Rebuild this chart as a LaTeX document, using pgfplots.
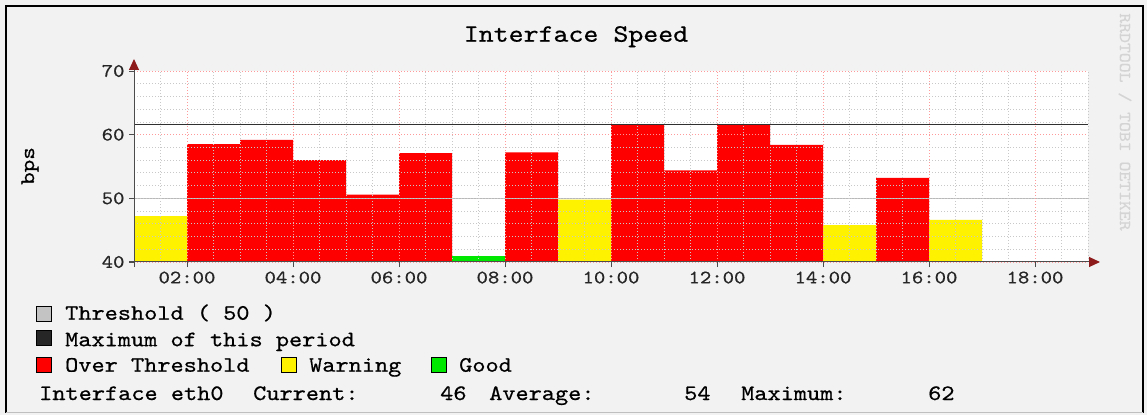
\documentclass[border=0pt]{standalone}
\usepackage{fontspec}
\usepackage{pgfplots}
\pgfplotsset{compat=1.18}
\usetikzlibrary{arrows.meta}
\newfontfamily\rrd{lmmono10-regular.otf}[FakeStretch=1.14,FakeBold=0.6]
\definecolor{bgc}{HTML}{F2F2F2}
\definecolor{arrowred}{HTML}{8E1B1B}
\definecolor{thrgray}{HTML}{B8B8B8}
\definecolor{maxgray}{HTML}{303030}
\definecolor{mgrid}{HTML}{FF9A9A}
\definecolor{ngrid}{HTML}{C8C8C8}
\definecolor{goodgreen}{HTML}{00E800}
\begin{document}
\begin{tikzpicture}[x=1pt,y=1pt]
\fill[bgc] (0,0) rectangle (1147,415);
\draw[black, line width=2.3pt] (6.2,2.5) -- (6.2,408.8) -- (1142.8,408.8) -- (1142.8,2.5);
\draw[black!25, line width=1.5pt] (6.2,2.5) -- (1142.8,2.5);
\begin{axis}[
  at={(134pt,153pt)}, anchor=south west,
  scale only axis, width=954pt, height=191pt,
  xmin=1, xmax=19, ymin=40, ymax=70,
  axis lines=left, axis on top,
  axis background/.style={fill=white},
  axis line style={draw=black!70, line width=1pt, -{Triangle[length=11pt,width=10pt,color=arrowred]}, shorten >=-12pt, shorten <=-5pt},
  xtick={2,4,...,18},
  xticklabels={02:00,04:00,06:00,08:00,10:00,12:00,14:00,16:00,18:00},
  ytick={40,60,70},
  extra y ticks={50},
  extra y tick style={grid=none},
  minor xtick={1,1.5,...,19},
  minor ytick={40,42,...,70},
  xmajorgrids, ymajorgrids, xminorgrids, yminorgrids,
  major grid style={mgrid, line width=0.8pt, dash pattern=on 1pt off 2pt},
  minor grid style={ngrid, line width=0.8pt, dash pattern=on 1pt off 2pt},
  tick align=outside,
  major tick length=5pt, minor tick length=0pt,
  every tick/.style={black!70, line width=0.8pt},
  /pgf/number format/assume math mode=true,
  ticklabel style={font=\rrd\fontsize{19}{19}\selectfont, text=black!85},
  xticklabel style={yshift=-1pt},
  yticklabel style={xshift=-1pt},
  clip=true,
]
% Over threshold (red)
\addplot[ybar, bar width=1, bar shift=0pt, fill=red, draw=none] coordinates {
(2.5,58.5) (3.5,59.2) (4.5,56.0) (5.5,50.6) (6.5,57.1) (8.5,57.2)
(10.5,61.5) (11.5,54.4) (12.5,61.5) (13.5,58.4) (15.5,53.2)};
% Warning (yellow)
\addplot[ybar, bar width=1, bar shift=0pt, fill=yellow, draw=none] coordinates {
(1.5,47.2) (9.5,49.8) (14.5,45.8) (16.5,46.6)};
% Good (green)
\addplot[ybar, bar width=1, bar shift=0pt, fill=goodgreen, draw=none] coordinates {
(7.5,41.0)};
% Threshold
\addplot[thrgray, line width=1.5pt] coordinates {(1,50) (19,50)};
% Maximum of this period
\addplot[maxgray, line width=1.7pt] coordinates {(1,61.6) (19,61.6)};
\end{axis}
% title, labels, watermark
\node[anchor=base, font=\rrd\fontsize{25}{25}\selectfont] at (576,373.3) {Interface Speed};
\node[rotate=90, font=\rrd\fontsize{21}{21}\selectfont] at (30,249) {bps};
\node[rotate=-90, text=black!17, font=\rrd\fontsize{16.5}{16.5}\selectfont] at (1125,293) {RRDTOOL / TOBI OETIKER};
% legend
\begin{scope}[every node/.style={anchor=base west, inner sep=0pt, font=\rrd\fontsize{22}{22}\selectfont}]
\draw[fill=thrgray!85, line width=1pt] (36,94) rectangle (51,109);
\node at (65,95.3) {Threshold ( 50 )};
\draw[fill=black!85, line width=1pt] (36,70) rectangle (51,85);
\node at (65,68.8) {Maximum of this period};
\draw[fill=red, line width=1pt] (36,42.5) rectangle (51,57.5);
\node at (65,43.3) {Over Threshold};
\draw[fill=yellow, line width=1pt] (281,42.5) rectangle (296,57.5);
\node at (309,43.3) {Warning};
\draw[fill=goodgreen, line width=1pt] (431,42.5) rectangle (446,57.5);
\node at (459,43.3) {Good};
\node at (39,15) {Interface eth0};
\node at (253,15) {Current:};
\node at (440,15) {46};
\node at (489,15) {Average:};
\node at (684,15) {54};
\node at (741,15) {Maximum:};
\node at (928,15) {62};
\end{scope}
\end{tikzpicture}
\end{document}
